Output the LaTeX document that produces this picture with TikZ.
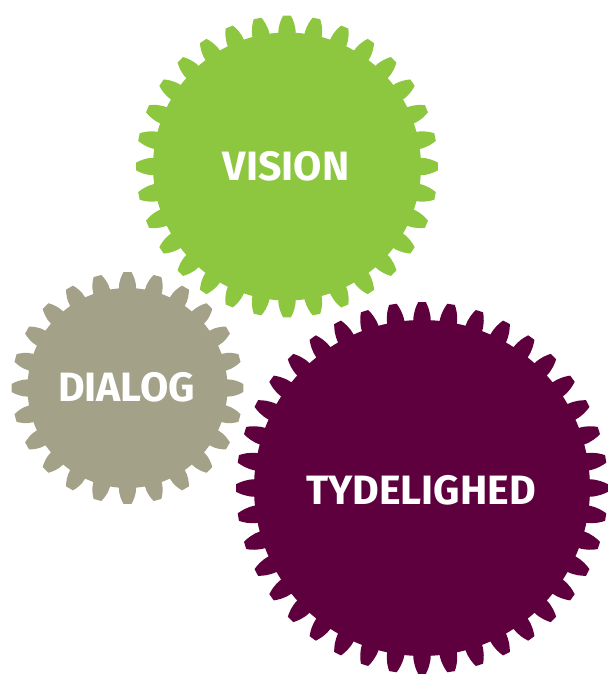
\documentclass[tikz,border=0pt]{standalone}
\usepackage{fontspec}
\setmainfont{Fira Sans}
\definecolor{visiongreen}{RGB}{141,198,63}
\definecolor{dialoggray}{RGB}{163,161,135}
\definecolor{tydemaroon}{RGB}{94,0,62}
\tikzset{gearlabel/.style={text=white, font=\fontsize{41}{41}\selectfont\bfseries, inner sep=0pt, anchor=center}}
% cx, cy, teeth, outer radius, root radius, colour
\newcommand{\gearshape}[6]{%
  \begin{scope}[shift={(#1,#2)}]
    \pgfmathsetmacro{\ga}{360/#3}
    \pgfmathsetmacro{\gd}{#4-#5}
    \pgfmathtruncatemacro{\gn}{#3-1}
    \fill[#6] ({90-0.33*\ga}:#5)
      \foreach \i in {0,...,\gn}{
        .. controls ({90+\i*\ga-0.31*\ga}:{#5+0.45*\gd}) and ({90+\i*\ga-0.2*\ga}:{#4-0.2*\gd}) .. ({90+\i*\ga-0.13*\ga}:#4)
        -- ({90+\i*\ga+0.13*\ga}:#4)
        .. controls ({90+\i*\ga+0.2*\ga}:{#4-0.2*\gd}) and ({90+\i*\ga+0.31*\ga}:{#5+0.45*\gd}) .. ({90+\i*\ga+0.33*\ga}:#5)
        arc[start angle={90+\i*\ga+0.33*\ga}, end angle={90+\i*\ga+0.67*\ga}, radius=#5]
      } -- cycle;
  \end{scope}}
\begin{document}
\begin{tikzpicture}[x=1pt,y=-1pt]
  \useasboundingbox (0,0) rectangle (609,674);
  \gearshape{287}{166.5}{32}{151}{134}{visiongreen}
  \gearshape{127.5}{388}{24}{116}{100}{dialoggray}
  \gearshape{422}{488}{40}{186}{168}{tydemaroon}
  \node[gearlabel] (vision) at (286,166.5) {VISION};
  \node[gearlabel] (dialog) at (126.5,387) {DIALOG};
  \node[gearlabel] (tydelighed) at (421,490) {TYDELIGHED};
\end{tikzpicture}
\end{document}
